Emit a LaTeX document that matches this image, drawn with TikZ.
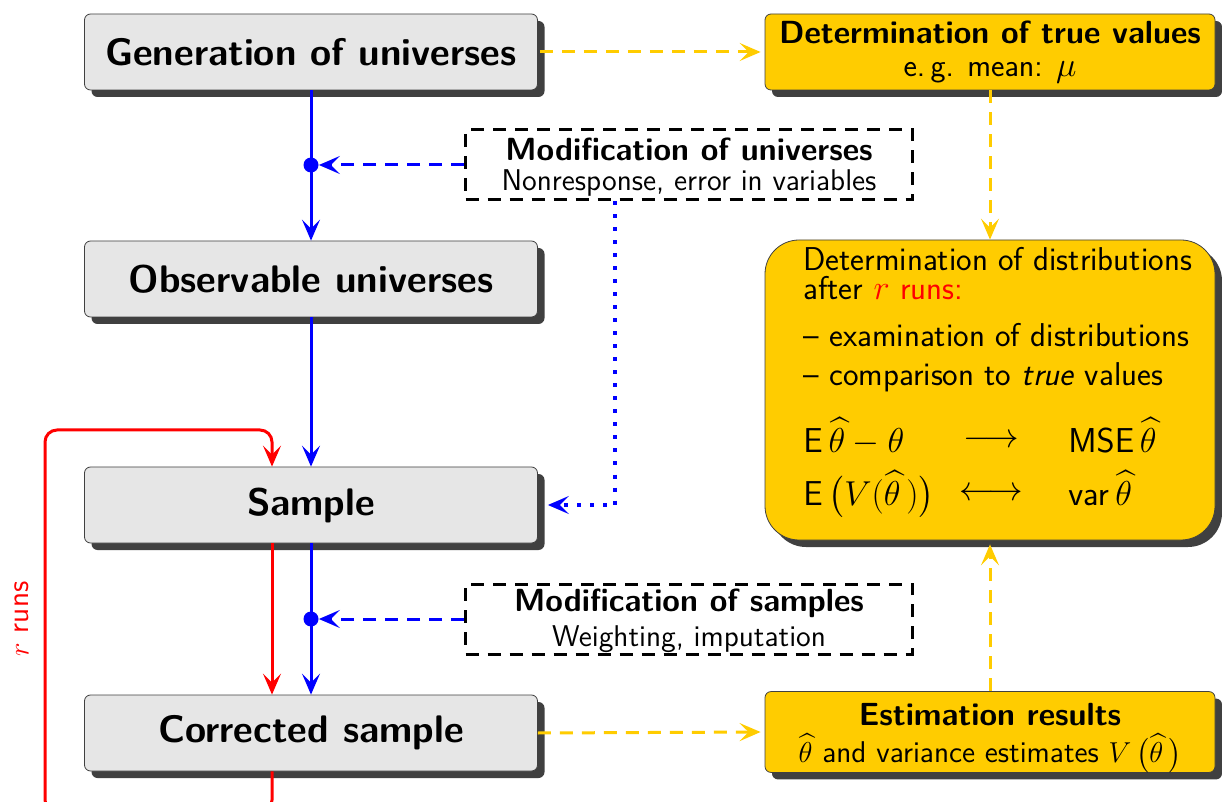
\documentclass[tikz,border=0pt]{standalone}
\usepackage{amsmath}
\renewcommand{\familydefault}{\sfdefault}
\usetikzlibrary{shadows,arrows.meta}
\definecolor{gold}{HTML}{FFCC00}
\definecolor{shade}{HTML}{404040}
\definecolor{boxgray}{HTML}{E6E6E6}
\newcommand{\ttl}{\fontsize{16}{15}\selectfont\bfseries}
\newcommand{\sub}{\fontsize{15}{15}\selectfont\mdseries}
\tikzset{
  shadowed/.style={drop shadow={shadow xshift=3.5pt,shadow yshift=-3.5pt,fill=shade,opacity=1}},
  graybox/.style={shadowed, draw=black!75, fill=boxgray, rounded corners=3pt,
    minimum width=226.5pt, minimum height=38pt, inner sep=0pt,
    font=\fontsize{19.2}{22}\selectfont\bfseries},
  goldbox/.style={shadowed, draw=black!75, fill=gold, rounded corners=3pt,
    minimum width=225pt, minimum height=38pt, inner sep=0pt, align=center},
  modbox/.style={draw=black, line width=1.5pt, dash pattern=on 6.5pt off 4.5pt,
    fill=white, minimum width=223.5pt, minimum height=35pt, inner sep=0pt, align=center},
  dtext/.style={anchor=base west, inner sep=0pt, font=\fontsize{16.5}{19}\selectfont},
  dmid/.style={anchor=base, inner sep=0pt, font=\fontsize{16.5}{19}\selectfont},
  arr/.style={-{Stealth[length=10.5pt,width=9pt,inset=4.5pt]}},
  blueline/.style={arr, blue, line width=1.5pt},
  bluedash/.style={arr, blue, line width=1.5pt, dash pattern=on 6.5pt off 4.5pt},
  bluedot/.style={arr, blue, line width=2pt, dash pattern=on 2pt off 4.5pt},
  redline/.style={arr, red, line width=1.5pt},
  golddash/.style={arr, gold, line width=1.5pt, dash pattern=on 6.5pt off 4.5pt},
  joint/.style={circle, fill=blue, minimum size=7.5pt, inner sep=0pt},
}
\begin{document}
\begin{tikzpicture}[x=0.5pt,y=-0.5pt]
\useasboundingbox (0,0) rectangle (1222,802);
\clip (0,0) rectangle (1222,802);

% left column
\node[graybox] (gen) at (311,52) {Generation of universes};
\node[graybox] (obs) at (311,279) {Observable universes};
\node[graybox] (sample) at (311,505) {Sample};
\node[graybox] (corr) at (311,733) {Corrected sample};

% modification boxes
\node[modbox] (modu) at (689,165) {\ttl\rule{0pt}{13pt}Modification of universes\\[3pt]
  \sub Nonresponse, error in variables};
\node[modbox] (mods) at (689,619) {\ttl\rule{0pt}{13pt}Modification of samples\\[3pt]
  \sub Weighting, imputation};

\node[joint] (j1) at (311,165) {};
\node[joint] (j2) at (311,619) {};

% right column
\node[goldbox] (truev) at (990,52) {\ttl Determination of true values\\[4.5pt]
  \fontsize{16}{15}\selectfont\mdseries e.\,g. mean: $\mu$};
\node[goldbox, minimum height=150pt, rounded corners=17pt] (dist) at (990,390) {};
\node[goldbox] (est) at (990,732) {\ttl\rule{0pt}{17pt}Estimation results\\[3pt]
  \sub $\widehat{\theta}$ and variance estimates $V\,\bigl(\widehat{\theta}\,\bigr)$};

% text inside distributions box
\node[dtext] (dl1) at (803,271) {Determination of distributions};
\node[dtext] (dl2) at (803,300) {after \textcolor{red}{$r$ runs:}};
\node[dtext] (dl3) at (803,347) {-- examination of distributions};
\node[dtext] (dl4) at (803,386) {-- comparison to \textit{true} values};
\node[dtext] (m1l) at (803,452) {$\mathsf{E}\,\widehat{\theta}-\theta$};
\node[dmid] (m1a) at (991,448) {$\longrightarrow$};
\node[dtext] (m1r) at (1068,452) {$\mathsf{MSE}\,\widehat{\theta}$};
\node[dtext] (m2l) at (803,505) {$\mathsf{E}\,\bigl(V(\widehat{\theta}\,)\bigr)$};
\node[dmid] (m2a) at (991,501) {$\longleftrightarrow$};
\node[dtext] (m2r) at (1068,505) {$\mathsf{var}\,\widehat{\theta}$};

% blue flow
\draw[blueline] (gen) -- (obs);
\draw[blueline] (obs) -- (sample);
\draw[blueline] (sample) -- (corr);
\draw[bluedash] (modu) -- (j1);
\draw[bluedash] (mods) -- (j2);
\draw[bluedot] ([xshift=-37pt]modu.south) |- ([xshift=5pt]sample.east);

% red loop
\coordinate (lb) at (45,812);
\coordinate (lt) at (45,430);
\draw[redline] ([xshift=-19.5pt]sample.south) -- ([xshift=-19.5pt]corr.north);
\draw[redline, rounded corners=6pt] ([xshift=-19.5pt]corr.south) |- (lb) -- (lt) -| ([xshift=-19.5pt]sample.north);
\node[rotate=90, text=red, font=\fontsize{15}{18}\selectfont] (runs) at (22,619) {$r$ runs};

% gold flow
\draw[golddash] ([xshift=1pt]gen.east) -- ([xshift=-2pt]truev.west);
\draw[golddash] (truev) -- (dist);
\draw[golddash] (corr.east) -- ([xshift=-2pt]est.west);
\draw[golddash] (est) -- ([yshift=-2pt]dist.south);
\end{tikzpicture}
\end{document}
